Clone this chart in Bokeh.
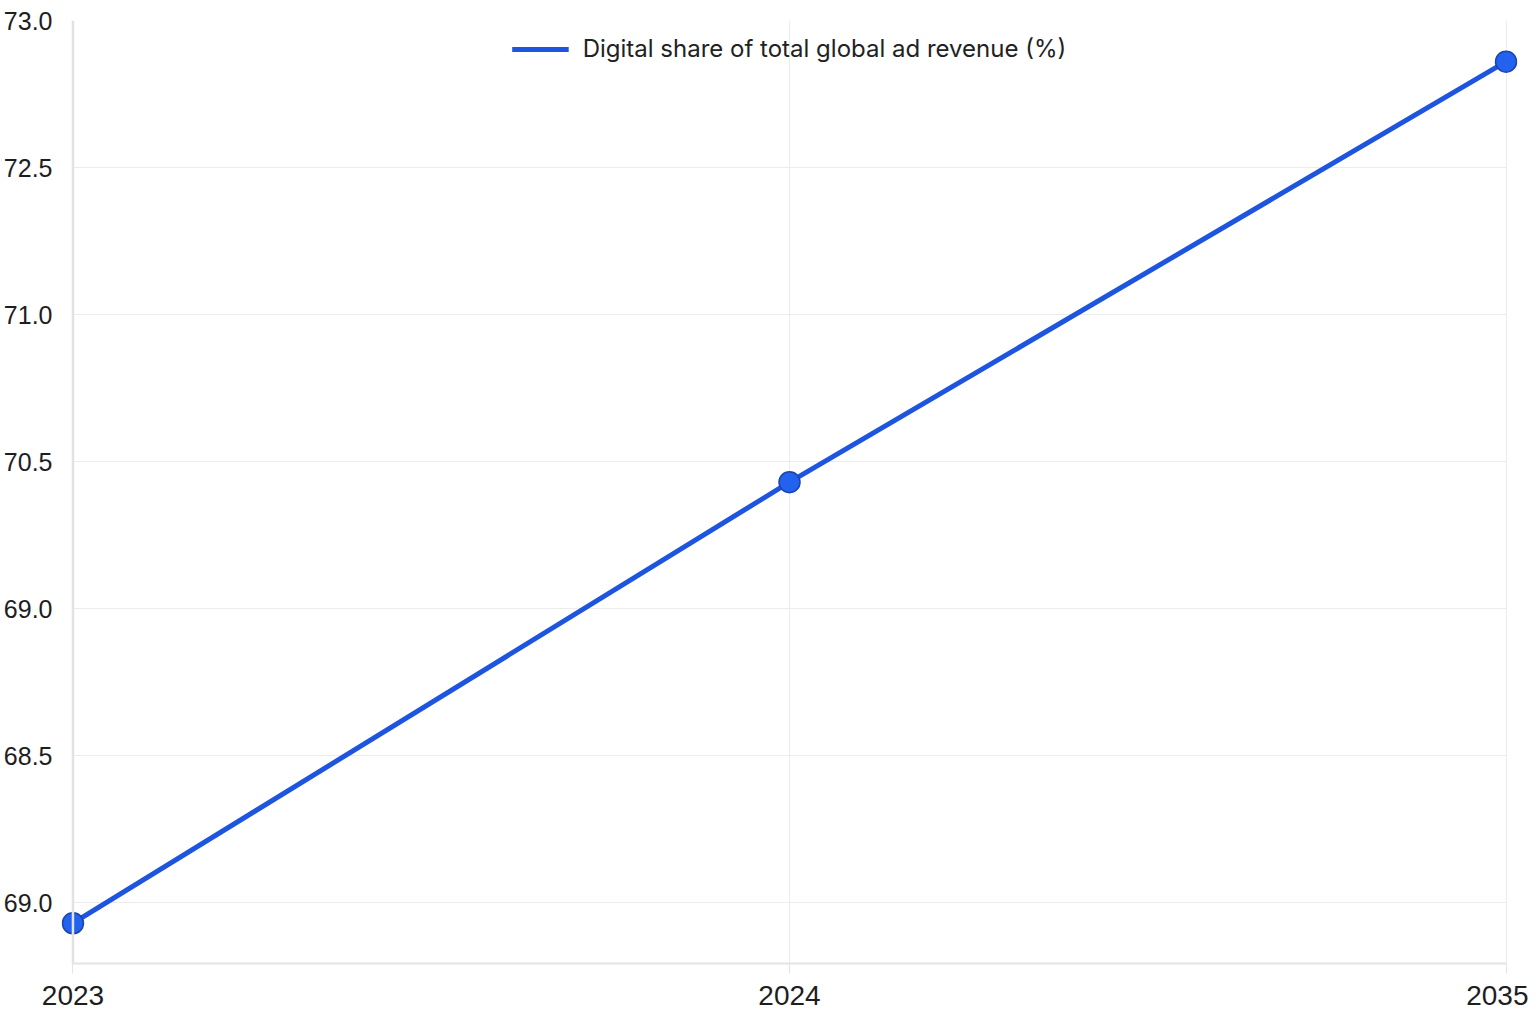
from bokeh.plotting import figure
from bokeh.models import Range1d, FixedTicker, Span
from bokeh.embed import file_html
from bokeh.resources import INLINE

# ---- data ----
years = ["2023", "2024", "2035"]
digital_share = [69.93, 71.43, 72.86]
y_ticks = [73.0, 72.5, 72.0, 71.5, 71.0, 70.5, 70.0]
y_tick_labels = ["73.0", "72.5", "71.0", "70.5", "69.0", "68.5", "69.0"]
series_name = "Digital share of total global ad revenue (%)"

x_idx = list(range(len(years)))
pad = 0.016

p = figure(
    width=1528, height=1016,
    x_range=Range1d(x_idx[0] - pad, x_idx[-1] + pad),
    y_range=Range1d(69.793, 73.0),
    output_backend="svg", toolbar_location=None,
    min_border_left=61, min_border_right=11, min_border_top=20, min_border_bottom=53,
)
p.outline_line_color = None
p.background_fill_color = "white"
p.border_fill_color = "white"

# grid
p.xgrid.grid_line_color = "#ececec"
p.ygrid.grid_line_color = "#ececec"
p.xgrid.ticker = FixedTicker(ticks=x_idx)
p.ygrid.ticker = FixedTicker(ticks=y_ticks)
p.ygrid.cross_bounds = (x_idx[0], x_idx[-1])

# y axis line drawn at first category
p.add_layout(Span(location=x_idx[0], dimension="height", line_color="#e2e2e2", line_width=2.5))

p.line(x_idx, digital_share, line_color="#1d55e0", line_width=5, legend_label=series_name)
p.scatter(x_idx, digital_share, size=21, fill_color="#2262ee", line_color="#1a44b0", line_width=1.5)

# axes
p.xaxis.ticker = FixedTicker(ticks=x_idx)
p.xaxis.major_label_overrides = {i: y for i, y in zip(x_idx, years)}
p.xaxis.bounds = (x_idx[0], x_idx[-1])
p.yaxis.ticker = FixedTicker(ticks=y_ticks)
p.yaxis.major_label_overrides = {t: l for t, l in zip(y_ticks, y_tick_labels)}

for ax in (p.xaxis, p.yaxis):
    ax.axis_line_color = "#e4e4e4"
    ax.axis_line_width = 2
    ax.major_tick_line_color = "#e4e4e4"
    ax.minor_tick_line_color = None
    ax.major_label_text_color = "#1e1e1e"
    ax.major_label_text_font = "Liberation Sans"

p.xaxis.major_tick_in = 0
p.xaxis.major_tick_out = 10
p.xaxis.major_label_standoff = 12
p.xaxis.major_label_text_font_size = "28px"

p.yaxis.axis_line_color = None
p.yaxis.major_tick_in = 0
p.yaxis.major_tick_out = 0
p.yaxis.major_label_standoff = 9
p.yaxis.major_label_text_font_size = "25px"

# legend
p.legend.location = "top_center"
p.legend.border_line_alpha = 0
p.legend.background_fill_alpha = 0
p.legend.label_text_font = "Inter"
p.legend.label_text_font_size = "24px"
p.legend.label_text_color = "#222222"
p.legend.glyph_width = 57
p.legend.label_standoff = 14
p.legend.margin = 4
p.legend.padding = 10

open("out.html", "w").write(file_html(p, INLINE))
